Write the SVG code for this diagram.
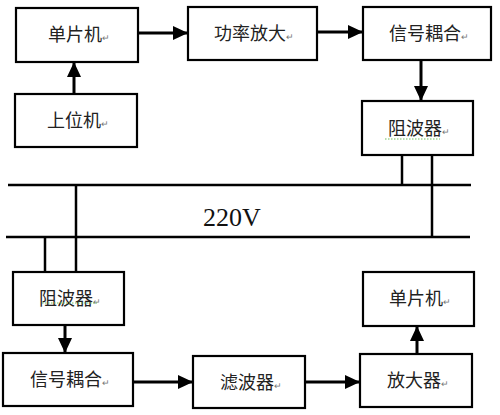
<svg xmlns="http://www.w3.org/2000/svg" width="500" height="415" viewBox="0 0 500 415">
<defs>
<style>
.box{fill:#fff;stroke:#000;stroke-width:2.2}
.t{font-family:"Noto Sans CJK SC","Noto Sans",sans-serif;font-size:18px;fill:#222;text-anchor:middle}
.pm{font-size:9px;fill:#777}
.c{stroke:#000;stroke-width:3;fill:none}
.bus{stroke:#000;stroke-width:2.5;fill:none}
.sq{stroke:#6fbf5f;stroke-width:1;fill:none;stroke-dasharray:1.5 1.5}
.v{font-family:"Liberation Serif",serif;font-size:26px;fill:#111}
</style>
<marker id="ah" markerUnits="userSpaceOnUse" markerWidth="15" markerHeight="14" refX="14" refY="7" orient="auto">
<path d="M0,0 L15,7 L0,14 z" fill="#000"/>
</marker>
</defs>
<rect width="500" height="415" fill="#fff"/>
<g id="connectors">
<line class="c" x1="74" y1="94" x2="74" y2="63" marker-end="url(#ah)"/>
<line class="c" x1="138" y1="33" x2="187" y2="33" marker-end="url(#ah)"/>
<line class="c" x1="317" y1="32" x2="362" y2="32" marker-end="url(#ah)"/>
<line class="c" x1="421" y1="60" x2="421" y2="100" marker-end="url(#ah)"/>
<line class="c" x1="65" y1="325" x2="65" y2="352" marker-end="url(#ah)"/>
<line class="c" x1="133" y1="382" x2="192" y2="382" marker-end="url(#ah)"/>
<line class="c" x1="305" y1="382" x2="359" y2="382" marker-end="url(#ah)"/>
<line class="c" x1="417" y1="354" x2="417" y2="327" marker-end="url(#ah)"/>
<line class="bus" x1="8" y1="185" x2="471" y2="185"/>
<line class="bus" x1="6" y1="237" x2="470" y2="237"/>
<line class="bus" x1="402" y1="155" x2="402" y2="185"/>
<line class="bus" x1="432" y1="155" x2="432" y2="237"/>
<line class="bus" x1="76" y1="185" x2="76" y2="272"/>
<line class="bus" x1="45" y1="237" x2="45" y2="272"/>
</g>
<text class="v" x="203" y="226">220V</text>
<g id="mcu1"><rect class="box" x="16" y="8" width="122" height="54"/><text class="t" x="79" y="41">单片机<tspan class="pm">↵</tspan></text></g>
<g id="host"><rect class="box" x="15" y="94" width="122" height="53"/><text class="t" x="78" y="127">上位机<tspan class="pm">↵</tspan></text></g>
<g id="pa"><rect class="box" x="188" y="7" width="129" height="53"/><text class="t" x="254" y="40">功率放大<tspan class="pm">↵</tspan></text></g>
<g id="coupler1"><rect class="box" x="363" y="7" width="128" height="53"/><text class="t" x="429" y="40">信号耦合<tspan class="pm">↵</tspan></text></g>
<g id="trap1"><rect class="box" x="362" y="101" width="111" height="54"/><text class="t" x="419" y="135">阻波器<tspan class="pm">↵</tspan></text><path class="sq" d="M385,139 L440,139"/></g>
<g id="trap2"><rect class="box" x="13" y="272" width="111" height="53"/><text class="t" x="70" y="305">阻波器<tspan class="pm">↵</tspan></text><path class="sq" d="M42,303 L97,303"/></g>
<g id="coupler2"><rect class="box" x="3" y="353" width="130" height="53"/><text class="t" x="70" y="386">信号耦合<tspan class="pm">↵</tspan></text></g>
<g id="filter"><rect class="box" x="193" y="356" width="112" height="52"/><text class="t" x="251" y="389">滤波器<tspan class="pm">↵</tspan></text></g>
<g id="amp"><rect class="box" x="360" y="354" width="112" height="53"/><text class="t" x="418" y="387">放大器<tspan class="pm">↵</tspan></text></g>
<g id="mcu2"><rect class="box" x="363" y="272" width="111" height="54"/><text class="t" x="420" y="305">单片机<tspan class="pm">↵</tspan></text></g>
</svg>
